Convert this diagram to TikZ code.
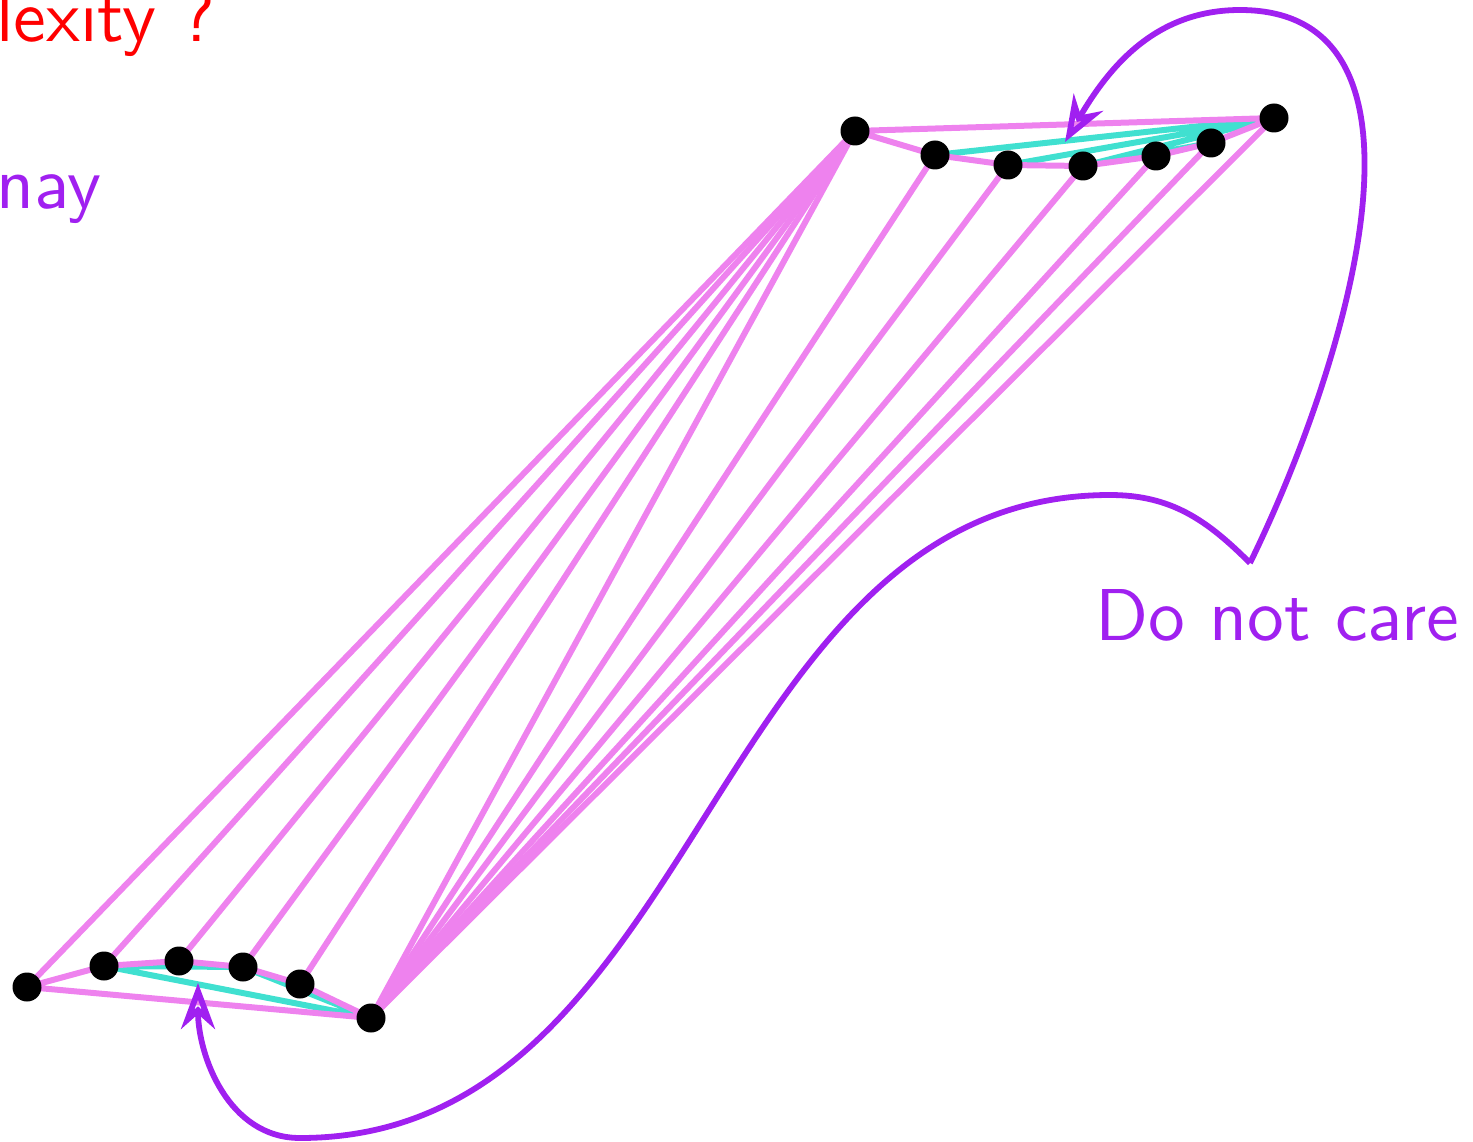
\documentclass[tikz,border=0pt]{standalone}
\usepackage{fontspec}
\newfontfamily\lmsx{lmsans10-regular.otf}
\usetikzlibrary{arrows.meta}
\definecolor{pinkv}{RGB}{238,130,238}
\definecolor{turq}{RGB}{64,224,208}
\definecolor{purp}{RGB}{160,32,240}
\begin{document}
\begin{tikzpicture}[x=1pt,y=1pt,
 dot/.style={circle,fill=black,inner sep=0pt,minimum size=29pt},
 pinkedge/.style={pinkv,line width=6pt},
 cyanedge/.style={turq,line width=6pt},
 curvearrow/.style={purp,line width=5.8pt,-{Stealth[open,length=46pt,width=34pt]}},
 lbl/.style={inner sep=0pt,anchor=base west,font=\fontsize{73.5}{88}\lmsx}]
\useasboundingbox (0,0) rectangle (1473,-1142);
% top cluster
\coordinate (t0) at (855,-131);
\coordinate (t1) at (935,-155);
\coordinate (t2) at (1008,-165);
\coordinate (t3) at (1083,-166);
\coordinate (t4) at (1156,-156);
\coordinate (t5) at (1211,-143);
\coordinate (t6) at (1274,-118);
% bottom cluster
\coordinate (b0) at (27,-987);
\coordinate (b1) at (104,-966);
\coordinate (b2) at (179,-961);
\coordinate (b3) at (243,-967);
\coordinate (b4) at (300,-984);
\coordinate (b5) at (371,-1018);
% cross edges
\foreach \b in {b0,b1,b2,b3,b4} \draw[pinkedge] (t0) -- (\b);
\foreach \t in {t0,t1,t2,t3,t4,t5,t6} \draw[pinkedge] (b5) -- (\t);
% triangulations
\draw[cyanedge] (t1) -- (t6) (t2) -- (t6) (t3) -- (t6) (t3) -- (t5);
\draw[cyanedge] (b1) -- (b5) (b1) -- (b3) (b3) -- (b5);
% hulls
\draw[pinkedge,line join=round] (t0) -- (t6) (t0) -- (t1) -- (t2) -- (t3) -- (t4) -- (t5) -- (t6);
\draw[pinkedge,line join=round] (b0) -- (b5) (b0) -- (b1) -- (b2) -- (b3) -- (b4) -- (b5);
% dots
\foreach \p in {t0,t1,t2,t3,t4,t5,t6,b0,b1,b2,b3,b4,b5}
  \node[dot] (n\p) at (\p) {};
% texts
\node[lbl,text=red] (cx) at (-4,-42) {lexity ?};
\node[lbl,text=purp] (dl) at (-4,-209) {nay};
\node[lbl,text=purp] (care) at (1095,-640) {Do not care};
% arrows
\coordinate (v) at (1250,-563);
\coordinate (ta) at (1240,-10);
\coordinate (tb) at (1110,-495);
\coordinate (tc) at (300,-1138);
\coordinate (tipa) at (1065,-142);
\coordinate (tipb) at (198,-983);
\draw[curvearrow] (v) .. controls (1345,-369) and (1456,-10) .. (ta)
  .. controls (1154,-10) and (1108,-69) .. (tipa);
\draw[curvearrow] (v) .. controls (1207,-520) and (1171,-495) .. (tb)
  .. controls (707,-495) and (703,-1138) .. (tc)
  .. controls (228,-1138) and (198,-1055) .. (tipb);
\end{tikzpicture}
\end{document}
